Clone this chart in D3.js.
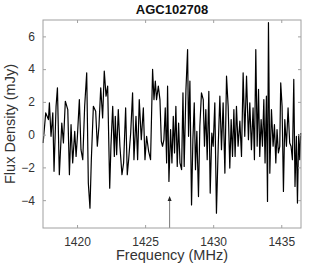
<!DOCTYPE html>
<meta charset="utf-8">
<script src="https://d3js.org/d3.v7.min.js"></script>
<style>
  body { margin: 0; background: #fff; }
  text { font-family: "Liberation Sans", Arial, sans-serif; }
</style>
<div id="my_dataviz"></div>
<script>
  // spectrum channels
  var freq = [1417.51, 1417.70, 1417.90, 1417.97, 1418.09, 1418.22, 1418.31, 1418.46, 1418.56, 1418.70,
    1418.88, 1419.00, 1419.14, 1419.32, 1419.44, 1419.56, 1419.68, 1419.83, 1419.93, 1420.02,
    1420.17, 1420.29, 1420.42, 1420.56, 1420.71, 1420.83, 1420.95, 1421.05, 1421.20, 1421.37,
    1421.49, 1421.61, 1421.74, 1421.88, 1422.00, 1422.13, 1422.25, 1422.40, 1422.49, 1422.62,
    1422.74, 1422.81, 1422.91, 1423.03, 1423.15, 1423.30, 1423.42, 1423.57, 1423.69, 1423.79,
    1423.94, 1424.08, 1424.18, 1424.33, 1424.45, 1424.57, 1424.72, 1424.87, 1424.99, 1425.11,
    1425.26, 1425.40, 1425.55, 1425.65, 1425.75, 1425.84, 1425.97, 1426.09, 1426.19, 1426.28,
    1426.38, 1426.48, 1426.58, 1426.65, 1426.75, 1426.87, 1426.97, 1427.07, 1427.16, 1427.26,
    1427.36, 1427.46, 1427.56, 1427.68, 1427.78, 1427.87, 1428.00, 1428.12, 1428.19, 1428.29,
    1428.41, 1428.51, 1428.61, 1428.70, 1428.80, 1428.92, 1429.02, 1429.14, 1429.27, 1429.36,
    1429.46, 1429.56, 1429.68, 1429.78, 1429.90, 1430.00, 1430.12, 1430.24, 1430.37, 1430.49,
    1430.61, 1430.73, 1430.86, 1430.98, 1431.10, 1431.22, 1431.32, 1431.42, 1431.52, 1431.61,
    1431.71, 1431.83, 1431.96, 1432.08, 1432.20, 1432.32, 1432.45, 1432.59, 1432.69, 1432.81,
    1432.93, 1433.03, 1433.13, 1433.23, 1433.33, 1433.42, 1433.52, 1433.62, 1433.72, 1433.81,
    1433.91, 1433.99, 1434.06, 1434.16, 1434.28, 1434.40, 1434.50, 1434.60, 1434.69, 1434.79,
    1434.89, 1434.96, 1435.06, 1435.16, 1435.26, 1435.38, 1435.50, 1435.62, 1435.72, 1435.82,
    1435.92, 1436.01, 1436.11, 1436.19, 1436.28, 1436.36, 1436.43];

  var flux = [-0.51, 1.33, 0.92, 1.94, -0.10, 1.33, -2.24, 1.73, 2.86, -2.45,
    0.71, -0.51, 2.04, 1.53, -2.45, 0.61, -1.73, 0.20, -1.33, -0.20,
    2.14, -0.92, -1.53, 1.73, 3.78, -2.96, -4.49, -1.53, 1.73, 1.43,
    -0.71, 0.51, 2.86, 1.02, 3.88, 2.35, 2.96, -3.27, -0.71, 1.73,
    -1.33, 1.12, -1.22, 1.53, -0.71, -2.45, -1.73, 1.63, -2.45, -1.53,
    0.10, 2.55, -1.53, 1.12, -1.53, 2.14, -0.31, 1.63, -1.53, -0.10,
    -1.02, -1.53, 3.98, 2.14, 3.27, 2.14, 2.96, 2.14, -0.41, -0.71,
    -0.31, 1.63, -1.73, 2.96, -2.86, 0.31, -1.73, 1.12, -1.12, 1.73,
    -1.94, 0.71, -1.73, -2.14, 2.55, -1.94, 2.76, 5.20, -0.10, 3.27,
    -4.29, -0.31, 1.94, -2.14, 0.20, -3.78, 0.51, 2.55, 2.14, -0.71,
    1.53, -1.53, 2.65, -3.57, 0.10, -0.71, 1.94, -4.80, -0.71, 2.35,
    -0.92, 1.94, -2.35, 3.57, 1.73, -2.04, 0.92, -1.33, 1.53, -1.33,
    1.73, -0.71, 0.82, -1.33, 3.78, -0.10, 3.57, -0.31, 1.94, -0.92,
    1.63, -1.53, 5.20, -0.71, 2.76, -1.33, 0.92, -0.71, 2.14, -1.73,
    2.35, -4.08, 6.84, -2.35, 1.53, -0.71, 0.61, -1.73, 0.31, -1.12,
    -0.71, 3.16, 1.73, -3.47, 0.92, -0.71, 1.63, -0.51, -0.71, -1.53,
    3.37, -3.16, -0.10, -4.18, 0.00, -1.53, 0.10];

  var xTicks = [1420, 1425, 1430, 1435];
  var yTicks = [-4, -2, 0, 2, 4, 6];
  var xDomain = [1417.5, 1436.45];
  var yDomain = [-5.7, 7.0];
  var markerFreq = 1426.8;   // arrow position
  var markerTop = -3.75;

  var margin = { top: 20, right: 31, bottom: 38, left: 43 },
    width = 332 - margin.left - margin.right,
    height = 266 - margin.top - margin.bottom;

  var svg = d3.select("#my_dataviz").append("svg")
    .attr("width", 332).attr("height", 266)
    .append("g").attr("transform", "translate(" + margin.left + "," + margin.top + ")");

  var x = d3.scaleLinear().domain(xDomain).range([0, width]);
  var y = d3.scaleLinear().domain(yDomain).range([height, 0]);

  var axisColor = "#a0a0a0", labelColor = "#333";

  // spectrum
  var line = d3.line().x(function(d, i) { return x(freq[i]); }).y(function(d) { return y(d); });
  svg.append("path").datum(flux)
    .attr("d", line).attr("fill", "none")
    .attr("stroke", "#000").attr("stroke-width", 1.2).attr("stroke-linejoin", "round");

  // arrow marking the expected frequency
  svg.append("line")
    .attr("x1", x(markerFreq)).attr("x2", x(markerFreq))
    .attr("y1", height).attr("y2", y(markerTop) + 2)
    .attr("stroke", "#555").attr("stroke-width", 0.8);
  var ax = x(markerFreq), ay = y(markerTop);
  svg.append("path")
    .attr("d", "M" + ax + "," + ay + "L" + (ax - 2) + "," + (ay + 5) + "L" + (ax + 2) + "," + (ay + 5) + "Z")
    .attr("fill", "#222");

  // axes with inward ticks, mirrored on top/right
  function styleAxis(g) {
    g.select(".domain").remove();
    g.selectAll(".tick line").attr("stroke", axisColor);
    g.selectAll(".tick text").attr("fill", labelColor).style("font-size", "12px");
  }
  svg.append("g").attr("transform", "translate(0," + height + ")")
    .call(d3.axisBottom(x).tickValues(xTicks).tickSize(-3).tickPadding(9).tickFormat(d3.format("d")))
    .call(styleAxis);
  svg.append("g")
    .call(d3.axisTop(x).tickValues(xTicks).tickSize(-3).tickFormat(""))
    .call(styleAxis);
  svg.append("g")
    .call(d3.axisLeft(y).tickValues(yTicks).tickSize(-3).tickPadding(8).tickFormat(d3.format("d")))
    .call(styleAxis);
  svg.append("g").attr("transform", "translate(" + width + ",0)")
    .call(d3.axisRight(y).tickValues(yTicks).tickSize(-3).tickFormat(""))
    .call(styleAxis);

  svg.append("rect").attr("width", width).attr("height", height)
    .attr("fill", "none").attr("stroke", axisColor).attr("stroke-width", 1);

  // labels
  svg.append("text").attr("x", width / 2).attr("y", -6).attr("text-anchor", "middle")
    .style("font-size", "13px").style("font-weight", "bold").attr("fill", "#111").text("AGC102708");
  svg.append("text").attr("x", width / 2).attr("y", height + 32).attr("text-anchor", "middle")
    .style("font-size", "14.5px").attr("fill", labelColor).text("Frequency (MHz)");
  svg.append("text").attr("transform", "rotate(-90)")
    .attr("x", -height / 2).attr("y", -28).attr("text-anchor", "middle")
    .style("font-size", "14.5px").attr("fill", labelColor).text("Flux Density (mJy)");
</script>
